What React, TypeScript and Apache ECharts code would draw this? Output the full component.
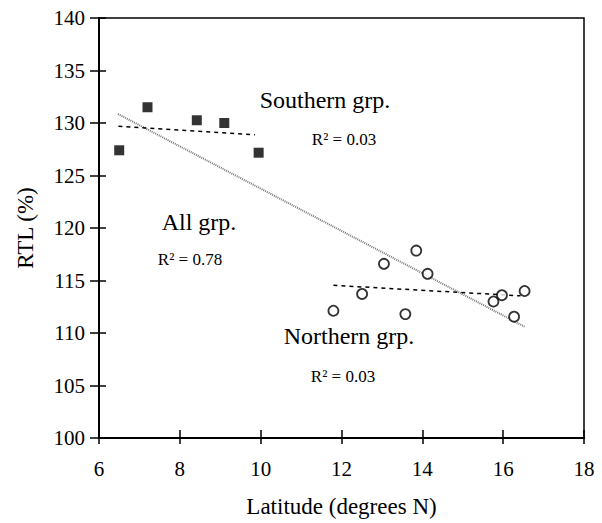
import React, { useEffect, useRef } from "react";
import * as echarts from "echarts";

const southernLat = [6.5, 7.2, 8.42, 9.1, 9.95];
const southernRTL = [127.4, 131.5, 130.26, 130.0, 127.17];
const northernLat = [11.8, 12.51, 13.05, 13.85, 14.13, 13.58, 15.76, 15.97, 16.53, 16.27];
const northernRTL = [112.12, 113.72, 116.59, 117.85, 115.64, 111.8, 113.0, 113.6, 114.0, 111.55];
const allFitLat = [6.47, 16.53];
const allFitRTL = [130.86, 110.6];
const southFitLat = [6.48, 9.86];
const southFitRTL = [129.7, 128.87];
const northFitLat = [11.8, 16.43];
const northFitRTL = [114.54, 113.54];

const FONT = "'Liberation Serif', 'Times New Roman', serif";

const zip = (xs: number[], ys: number[]) => xs.map((x, i) => [x, ys[i]]);

export default function App() {
  const ref = useRef<HTMLDivElement>(null);
  useEffect(() => {
    if (!ref.current) return;
    const chart = echarts.init(ref.current, null, { renderer: "svg" });
    const axisCommon = {
      axisLine: { show: true, lineStyle: { color: "#000", width: 2 } },
      splitLine: { show: false },
    };
    chart.setOption({
      animation: false,
      backgroundColor: "#fff",
      grid: {
        left: 99,
        right: 18,
        top: 18,
        bottom: 81,
        show: true,
        borderColor: "#000",
        borderWidth: 1.5,
        backgroundColor: "transparent",
      },
      xAxis: [
        {
          type: "value",
          min: 6,
          max: 18,
          interval: 2,
          position: "bottom",
          ...axisCommon,
          axisTick: { show: true, inside: false, length: 6, lineStyle: { color: "#000", width: 1.5 } },
          axisLabel: { color: "#000", fontFamily: FONT, fontSize: 21, margin: 20 },
          name: "Latitude (degrees N)",
          nameLocation: "middle",
          nameGap: 57,
          nameTextStyle: { color: "#000", fontFamily: FONT, fontSize: 23, lineHeight: 23 },
        },
        {
          type: "value",
          min: 6,
          max: 18,
          interval: 2,
          position: "bottom",
          offset: 0,
          axisLine: { show: false },
          splitLine: { show: false },
          axisTick: { show: true, inside: true, length: 8, lineStyle: { color: "#000", width: 1.5 } },
          axisLabel: { show: false },
        },
      ],
      yAxis: [
        {
          type: "value",
          min: 100,
          max: 140,
          interval: 5,
          position: "left",
          ...axisCommon,
          axisTick: { show: true, inside: false, length: 9, lineStyle: { color: "#000", width: 1.5 } },
          axisLabel: { color: "#000", fontFamily: FONT, fontSize: 21, margin: 14 },
          name: "RTL (%)",
          nameLocation: "middle",
          nameGap: 62,
          nameTextStyle: { color: "#000", fontFamily: FONT, fontSize: 23 },
        },
        {
          type: "value",
          min: 100,
          max: 140,
          interval: 5,
          position: "left",
          offset: 0,
          axisLine: { show: false },
          splitLine: { show: false },
          axisTick: { show: true, inside: true, length: 7, lineStyle: { color: "#000", width: 1.5 } },
          axisLabel: { show: false },
        },
      ],
      series: [
        {
          name: "All grp. fit",
          type: "line",
          data: zip(allFitLat, allFitRTL),
          symbol: "none",
          lineStyle: { color: "#777", width: 2, type: [1, 1] },
          z: 2,
        },
        {
          name: "Southern fit",
          type: "line",
          data: zip(southFitLat, southFitRTL),
          symbol: "none",
          lineStyle: { color: "#000", width: 1.5, type: [4, 4] },
          z: 2,
        },
        {
          name: "Northern fit",
          type: "line",
          data: zip(northFitLat, northFitRTL),
          symbol: "none",
          lineStyle: { color: "#000", width: 1.5, type: [4, 4] },
          z: 2,
        },
        {
          name: "Southern grp.",
          type: "scatter",
          data: zip(southernLat, southernRTL),
          symbol: "rect",
          symbolSize: 10,
          itemStyle: { color: "#000" },
          z: 3,
        },
        {
          name: "Northern grp.",
          type: "scatter",
          data: zip(northernLat, northernRTL),
          symbol: "circle",
          symbolSize: 10,
          itemStyle: { color: "#fff", borderColor: "#000", borderWidth: 1.8 },
          z: 3,
        },
      ],
      graphic: [
        { type: "text", x: 325, y: 100, style: { text: "Southern grp.", font: `24px ${FONT}`, fill: "#000", align: "center", verticalAlign: "middle" } },
        { type: "text", x: 344, y: 139, style: { text: "R² = 0.03", font: `17px ${FONT}`, fill: "#000", align: "center", verticalAlign: "middle" } },
        { type: "text", x: 199, y: 222, style: { text: "All grp.", font: `24px ${FONT}`, fill: "#000", align: "center", verticalAlign: "middle" } },
        { type: "text", x: 190, y: 259, style: { text: "R² = 0.78", font: `17px ${FONT}`, fill: "#000", align: "center", verticalAlign: "middle" } },
        { type: "text", x: 349, y: 336, style: { text: "Northern grp.", font: `24px ${FONT}`, fill: "#000", align: "center", verticalAlign: "middle" } },
        { type: "text", x: 343, y: 376, style: { text: "R² = 0.03", font: `17px ${FONT}`, fill: "#000", align: "center", verticalAlign: "middle" } },
      ],
    });
    return () => chart.dispose();
  }, []);
  return <div ref={ref} style={{ width: 602, height: 523, position: "fixed", left: 0, top: 0 }} />;
}
